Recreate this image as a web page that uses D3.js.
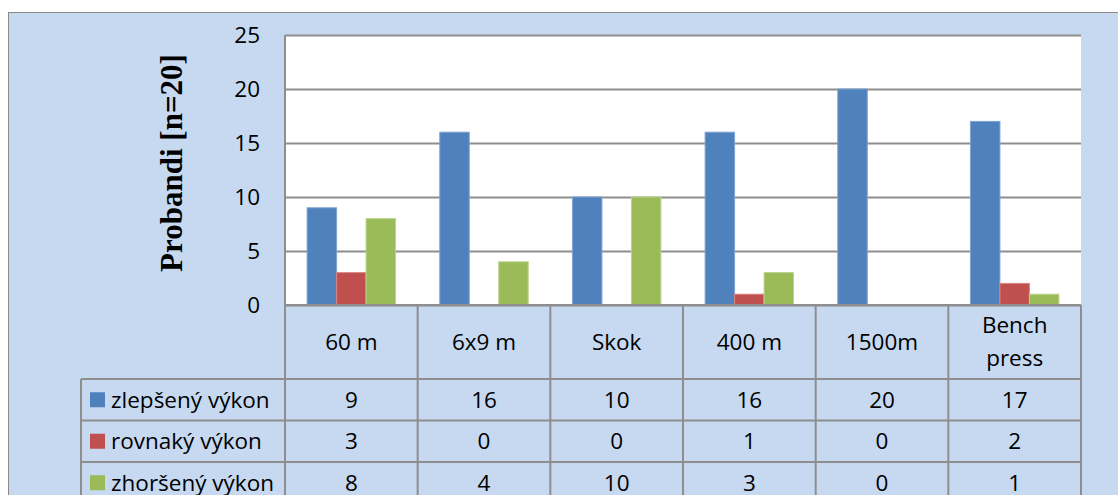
<!DOCTYPE html>
<html>
<head>
<meta charset="utf-8">
<script src="https://cdn.jsdelivr.net/npm/d3@7"></script>
<style>
  html, body { margin: 0; padding: 0; background: #ffffff; }
  svg { display: block; }
</style>
</head>
<body>
<svg id="chart" width="1118" height="495"></svg>
<script>
// Test categories (columns of the data table)
const categories = ["60 m", "6x9 m", "Skok", "400 m", "1500m", "Bench press"];
// Series names shown in the data table legend
const seriesNames = ["zlepšený výkon", "rovnaký výkon", "zhoršený výkon"];
// Number of participants per outcome and test
const improved = [9, 16, 10, 16, 20, 17];
const unchanged = [3, 0, 0, 1, 0, 2];
const worsened = [8, 4, 10, 3, 0, 1];
// Value axis ticks
const yTicks = [0, 5, 10, 15, 20, 25];
const yTitle = "Probandi [n=20]";

const seriesValues = [improved, unchanged, worsened];
const colors = ["#4f81bd", "#c0504d", "#9bbb59"];
const edgeColors = ["#7fa3d3", "#d98583", "#bcd48e"];

const W = 1118, H = 495;
const plot = { left: 285, right: 1081, top: 35, bottom: 305 };
const table = { left: 81, catBottom: 379, rowH: 41.5 };
const gridColor = "#8e8e8e";
const font = "'Open Sans', Lato, sans-serif";
const fontSize = 22.5;

const svg = d3.select("#chart");

// Chart area background with its border
svg.append("rect")
  .attr("x", 8.5).attr("y", 12.5)
  .attr("width", W).attr("height", H)
  .attr("fill", "#c6d9f1")
  .attr("stroke", "#8a8a8a").attr("stroke-width", 1);

// Plot area
svg.append("rect")
  .attr("x", plot.left).attr("y", plot.top)
  .attr("width", plot.right - plot.left).attr("height", plot.bottom - plot.top)
  .attr("fill", "#ffffff");

const x0 = d3.scaleBand().domain(categories).range([plot.left, plot.right]).paddingInner(0).paddingOuter(0);
const x1 = d3.scaleBand().domain(d3.range(seriesNames.length)).range([0, x0.bandwidth()]).paddingInner(0).paddingOuter(0.75);
const y = d3.scaleLinear().domain([0, 25]).range([plot.bottom, plot.top]);

// Gridlines and tick labels
const yAxis = d3.axisLeft(y)
  .tickValues(yTicks)
  .tickSize(-(plot.right - plot.left))
  .tickPadding(25)
  .tickFormat(d3.format("d"));

const gAxis = svg.append("g")
  .attr("transform", `translate(${plot.left},0)`)
  .call(yAxis);
gAxis.select(".domain").remove();
gAxis.selectAll(".tick line")
  .attr("stroke", gridColor).attr("stroke-width", 2);
gAxis.selectAll(".tick text")
  .attr("font-family", font).attr("font-size", fontSize).attr("fill", "#000");

// Vertical axis line
svg.append("line")
  .attr("x1", plot.left).attr("x2", plot.left)
  .attr("y1", plot.top).attr("y2", plot.bottom)
  .attr("stroke", gridColor).attr("stroke-width", 2);

// Bars
const groups = svg.append("g").selectAll("g")
  .data(categories)
  .join("g")
  .attr("transform", d => `translate(${x0(d)},0)`);

groups.selectAll("rect")
  .data((d, i) => seriesValues.map((vals, s) => ({ s, v: vals[i] })))
  .join("rect")
  .attr("x", d => x1(d.s))
  .attr("width", x1.bandwidth())
  .attr("y", d => y(d.v))
  .attr("height", d => y(0) - y(d.v))
  .attr("fill", d => colors[d.s])
  .attr("stroke", d => d.v > 0 ? edgeColors[d.s] : "none")
  .attr("stroke-width", 1);

// Axis title
svg.append("text")
  .attr("transform", `translate(182,163) rotate(-90)`)
  .attr("text-anchor", "middle")
  .attr("font-family", "'Liberation Serif', 'Times New Roman', serif")
  .attr("font-weight", "bold")
  .attr("font-size", 31)
  .attr("fill", "#000")
  .text(yTitle);

// Data table
const tbl = svg.append("g");
const lineAttrs = sel => sel.attr("stroke", gridColor).attr("stroke-width", 2);
const tableBottom = H + 20;
const rowTop = i => table.catBottom + i * table.rowH;

// Column separators in the table
tbl.selectAll("line.col")
  .data(d3.range(categories.length + 1))
  .join("line")
  .attr("class", "col")
  .attr("x1", i => plot.left + i * x0.step())
  .attr("x2", i => plot.left + i * x0.step())
  .attr("y1", plot.bottom)
  .attr("y2", tableBottom)
  .call(lineAttrs);

// Legend column left border
tbl.append("line")
  .attr("x1", table.left).attr("x2", table.left)
  .attr("y1", table.catBottom).attr("y2", tableBottom)
  .call(lineAttrs);

// Horizontal row borders
tbl.selectAll("line.row")
  .data(d3.range(seriesNames.length))
  .join("line")
  .attr("class", "row")
  .attr("x1", table.left).attr("x2", plot.right)
  .attr("y1", rowTop).attr("y2", rowTop)
  .call(lineAttrs);

// Zero line / table top
tbl.append("line")
  .attr("x1", plot.left).attr("x2", plot.right)
  .attr("y1", plot.bottom).attr("y2", plot.bottom)
  .call(lineAttrs);

// Category labels (long ones wrap onto two lines)
categories.forEach(c => {
  const cx = x0(c) + x0.bandwidth() / 2;
  const cy = (plot.bottom + table.catBottom) / 2;
  const words = c.length > 6 ? c.split(" ") : [c];
  const t = tbl.append("text")
    .attr("text-anchor", "middle")
    .attr("font-family", font).attr("font-size", fontSize).attr("fill", "#000");
  words.forEach((w, k) => {
    t.append("tspan")
      .attr("x", cx)
      .attr("y", cy + (k - (words.length - 1) / 2) * 33)
      .attr("dy", "0.35em")
      .text(w);
  });
});

// Series rows: legend key, name, and values
seriesNames.forEach((name, s) => {
  const cy = rowTop(s) + table.rowH / 2;
  tbl.append("rect")
    .attr("x", 90).attr("y", cy - 7.5)
    .attr("width", 15).attr("height", 15)
    .attr("fill", colors[s]);
  tbl.append("text")
    .attr("x", 111).attr("y", cy).attr("dy", "0.35em")
    .attr("font-family", font).attr("font-size", fontSize).attr("fill", "#000")
    .text(name);
  categories.forEach((c, i) => {
    tbl.append("text")
      .attr("x", x0(c) + x0.bandwidth() / 2)
      .attr("y", cy).attr("dy", "0.35em")
      .attr("text-anchor", "middle")
      .attr("font-family", font).attr("font-size", fontSize).attr("fill", "#000")
      .text(seriesValues[s][i]);
  });
});
</script>
</body>
</html>
